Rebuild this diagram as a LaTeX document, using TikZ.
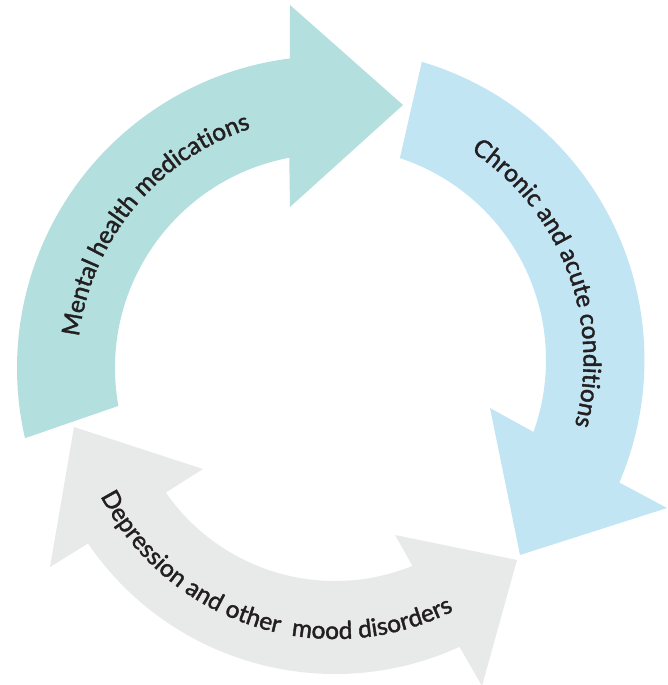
\documentclass[tikz,border=0pt]{standalone}
\usepackage{fontspec}
\newfontfamily\lblfont{Lato}[FakeBold=1.6]
\usetikzlibrary{calc,decorations.text}
\definecolor{tealc}{RGB}{179,223,222}
\definecolor{bluec}{RGB}{194,229,244}
\definecolor{grayc}{RGB}{232,233,233}
\definecolor{textc}{RGB}{35,31,32}
\tikzset{
  arrowshape/.style={draw=none},
  arclabel/.style={decorate, decoration={text along path, text align=center,
      text={|\lblfont\fontsize{24.5}{28}\selectfont\color{textc}|#1}}}
}
\begin{document}
\begin{tikzpicture}[x=1pt,y=1pt]
\useasboundingbox (0,0) rectangle (668,685);
\coordinate (T) at (329,317);
\coordinate (B) at (333.5,325);
\coordinate (G) at (335,310);
% teal arrow
\fill[tealc, arrowshape] ($(T)+(190.2:214)$) arc[start angle=190.2, end angle=100.7, radius=214]
  -- (290,478) -- (403,580) -- (290,680) -- ($(T)+(97.2:312)$)
  arc[start angle=97.2, end angle=193, radius=312] -- cycle;
% blue arrow
\fill[bluec, arrowshape] ($(B)+(73.5:311)$) arc[start angle=73.5, end angle=-23.2, radius=311]
  -- (667,177) -- (520,130) -- (490,277) -- ($(B)+(-19.8:212.5)$)
  arc[start angle=-19.8, end angle=71.8, radius=212.5] -- cycle;
% gray double arrow
\fill[grayc, arrowshape] (74,258) -- (203,216) -- ($(G)+(214.8:206)$)
  arc[start angle=214.8, end angle=292.1, radius=206]
  -- (395,150) -- (517,125) -- (482,-1) -- ($(G)+(294.6:299)$)
  arc[start angle=294.6, end angle=214.3, radius=299] -- (50,118) -- cycle;
% labels
\path[arclabel={Mental health medications}] ($(T)+(175:252)$) arc[start angle=175, end angle=106, radius=252];
\path[arclabel={Chronic and acute conditions}] ($(B)+(58:250)$) arc[start angle=58, end angle=-16.5, radius=250];
\path[arclabel={Depression and other~~mood disorders}] ($(G)+(207:264)$) arc[start angle=207, end angle=297, radius=264];
\end{tikzpicture}
\end{document}
